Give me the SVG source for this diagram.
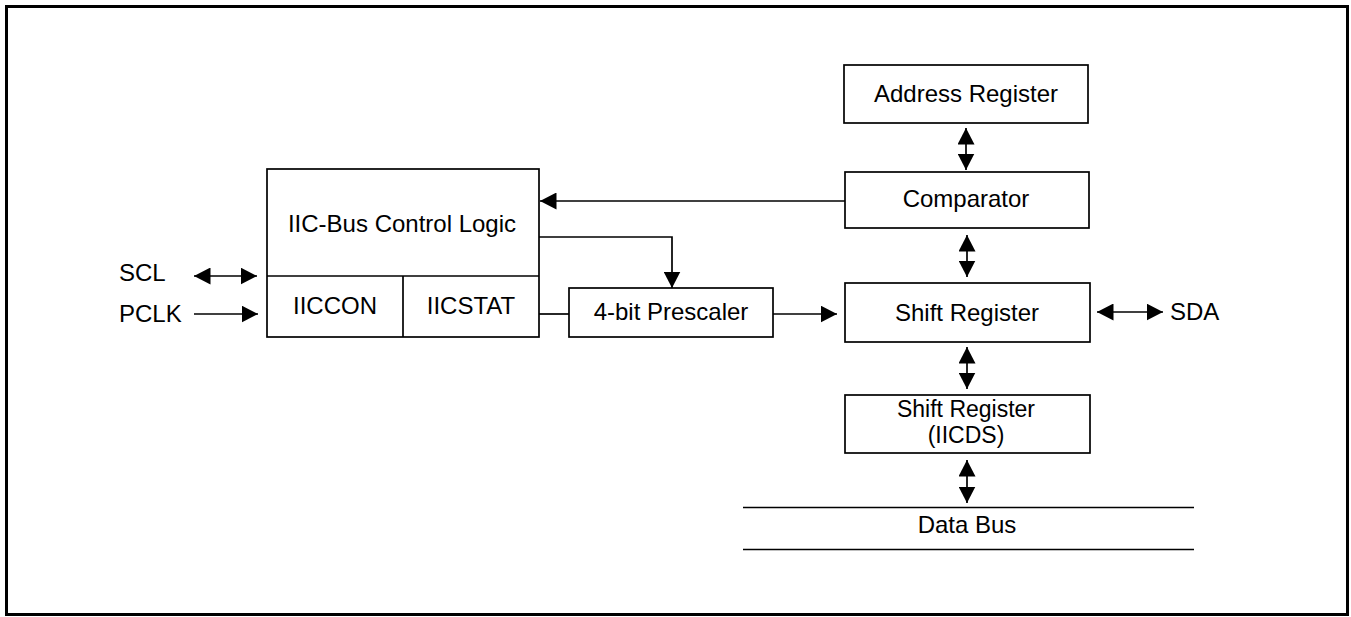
<svg xmlns="http://www.w3.org/2000/svg" width="1351" height="617" viewBox="0 0 1351 617">
<style>
.box{fill:#fff;stroke:#000;stroke-width:1.7}
.ln{fill:none;stroke:#000;stroke-width:1.7}
text{font-family:"Liberation Sans",Arial,sans-serif;font-size:24px;fill:#000}
.c{text-anchor:middle}
.s{font-size:23px}
</style>
<defs>
<marker id="ah" markerUnits="userSpaceOnUse" markerWidth="17" markerHeight="17" viewBox="0 0 17 17" refX="16.5" refY="8.5" orient="auto-start-reverse">
<path d="M0,0 L16.5,8.5 L0,17 z" fill="#000"/>
</marker>
</defs>
<rect x="6.5" y="6.5" width="1341" height="608" fill="#fff" stroke="#000" stroke-width="3"/>

<g id="control-logic">
<rect class="box" x="267" y="169" width="272" height="168"/>
<line class="ln" x1="267" y1="276" x2="539" y2="276"/>
<line class="ln" x1="403" y1="276" x2="403" y2="337"/>
<text class="c" x="402" y="232">IIC-Bus Control Logic</text>
</g>
<g id="iiccon"><text class="c" x="335" y="314">IICCON</text></g>
<g id="iicstat"><text class="c" x="471" y="314">IICSTAT</text></g>

<g id="scl"><text x="119" y="281">SCL</text></g>
<g id="pclk"><text x="119" y="322">PCLK</text></g>

<g id="prescaler">
<rect class="box" x="569" y="288" width="204" height="49"/>
<text class="c" x="671" y="320">4-bit Prescaler</text>
</g>

<g id="address-register">
<rect class="box" x="844" y="65" width="244" height="58"/>
<text class="c" x="966" y="102">Address Register</text>
</g>

<g id="comparator">
<rect class="box" x="845" y="172" width="244" height="56"/>
<text class="c" x="966" y="207">Comparator</text>
</g>

<g id="shift-register">
<rect class="box" x="845" y="283" width="245" height="59"/>
<text class="c" x="967" y="321">Shift Register</text>
</g>

<g id="iicds">
<rect class="box" x="845" y="395" width="245" height="58"/>
<text class="c s" x="966" y="417">Shift Register</text>
<text class="c s" x="966" y="443">(IICDS)</text>
</g>

<g id="sda"><text x="1170" y="320">SDA</text></g>

<g id="data-bus">
<line class="ln" x1="743" y1="507.5" x2="1194" y2="507.5"/>
<line class="ln" x1="743" y1="549.5" x2="1194" y2="549.5"/>
<text class="c" x="967" y="533">Data Bus</text>
</g>

<g id="connectors">
<line class="ln" x1="194" y1="276" x2="257" y2="276" marker-start="url(#ah)" marker-end="url(#ah)"/>
<line class="ln" x1="194" y1="314" x2="258" y2="314" marker-end="url(#ah)"/>
<line class="ln" x1="845" y1="201" x2="540" y2="201" marker-end="url(#ah)"/>
<path class="ln" d="M539,237 H672 V288" marker-end="url(#ah)"/>
<line class="ln" x1="539" y1="314" x2="569" y2="314"/>
<line class="ln" x1="773" y1="314" x2="837" y2="314" marker-end="url(#ah)"/>
<line class="ln" x1="1097" y1="312" x2="1163" y2="312" marker-start="url(#ah)" marker-end="url(#ah)"/>
<line class="ln" x1="966" y1="128" x2="966" y2="170" marker-start="url(#ah)" marker-end="url(#ah)"/>
<line class="ln" x1="967" y1="235" x2="967" y2="277" marker-start="url(#ah)" marker-end="url(#ah)"/>
<line class="ln" x1="967" y1="347" x2="967" y2="389" marker-start="url(#ah)" marker-end="url(#ah)"/>
<line class="ln" x1="967" y1="460" x2="967" y2="503" marker-start="url(#ah)" marker-end="url(#ah)"/>
</g>
</svg>
